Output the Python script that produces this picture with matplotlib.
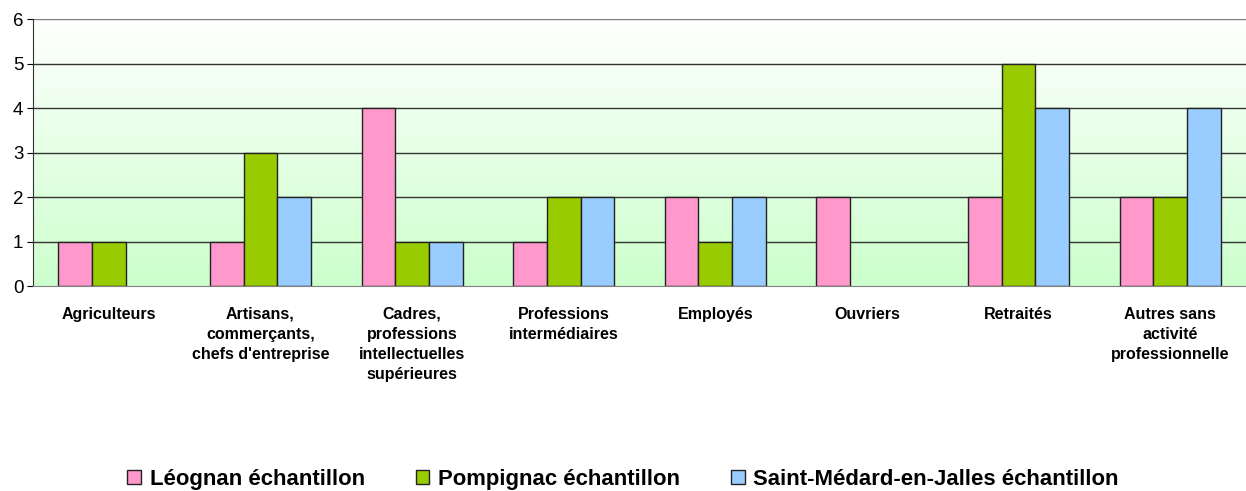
import numpy as np
import matplotlib.pyplot as plt
from matplotlib.colors import LinearSegmentedColormap

plt.rcParams['font.family'] = ['Liberation Sans', 'DejaVu Sans']

categories = ['Agriculteurs', 'Artisans,\ncommerçants,\nchefs d\'entreprise',
              'Cadres,\nprofessions\nintellectuelles\nsupérieures',
              'Professions\nintermédiaires', 'Employés', 'Ouvriers', 'Retraités',
              'Autres sans\nactivité\nprofessionnelle']
leognan = [1, 1, 4, 1, 2, 2, 2, 2]
pompignac = [1, 3, 1, 2, 1, 0, 5, 2]
saint_medard = [0, 2, 1, 2, 2, 0, 4, 4]
series_names = ['Léognan échantillon', 'Pompignac échantillon',
                'Saint-Médard-en-Jalles échantillon']
colors = ['#FF99CC', '#99CC00', '#99CCFF']

fig = plt.figure(figsize=(12.46, 4.91), dpi=100)
ax = fig.add_axes([0.0265, 0.4175, 0.9735, 0.5438])

x = np.arange(len(categories))
w = 0.222
ax.set_xlim(-0.5, len(categories) - 0.5)
ax.set_ylim(0, 6)

# background fading from white at the top to pale green at the bottom
grad = LinearSegmentedColormap.from_list('bg', ['#CCFFCC', '#FFFFFF'])
ax.imshow(np.linspace(0, 1, 256).reshape(-1, 1), cmap=grad, aspect='auto',
          extent=[-0.5, len(categories) - 0.5, 0, 6], origin='lower', zorder=0)

for y in range(1, 7):
    ax.axhline(y, color='#333333' if y < 6 else '#808080', lw=1, zorder=1)

for i, (vals, c) in enumerate(zip([leognan, pompignac, saint_medard], colors)):
    v = np.array(vals, dtype=float)
    mask = v > 0
    ax.bar(x[mask] + (i - 1) * w, v[mask], width=w, color=c, edgecolor='#222222',
           linewidth=1, zorder=2, label=series_names[i])

ax.set_xticks(x)
ax.set_xticklabels(categories, fontsize=11.5, fontweight='bold', va='top', linespacing=1.43)
ax.tick_params(axis='x', length=0, pad=15)
ax.set_yticks(range(0, 7))
ax.tick_params(axis='y', labelsize=13.5, length=4, direction='out', pad=3)
for s in ['top', 'right']:
    ax.spines[s].set_visible(False)
ax.spines['left'].set_color('#333333')
ax.spines['bottom'].set_color('#808080')

handles = [plt.Rectangle((0, 0), 1, 1, facecolor=c, edgecolor='#222222', lw=1) for c in colors]
fig.legend(handles, series_names, loc='center', bbox_to_anchor=(0.5, 0.024), ncol=3,
           frameon=False, prop={'size': 15.9, 'weight': 'bold'}, handlelength=0.62,
           handleheight=0.62, handletextpad=0.4, columnspacing=2.3, borderpad=0)

fig.savefig('out.png', dpi=100)
